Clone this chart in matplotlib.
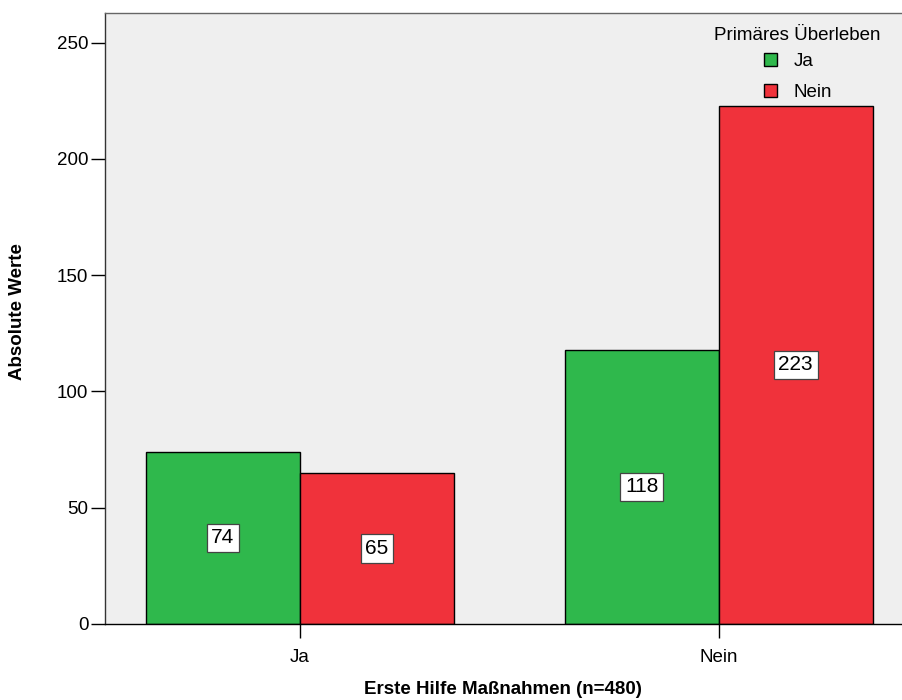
import numpy as np
import matplotlib
matplotlib.use("Agg")
import matplotlib.pyplot as plt

plt.rcParams['font.family'] = ['Liberation Sans', 'DejaVu Sans']

# data
categories = ["Ja", "Nein"]
series_names = ["Ja", "Nein"]
ja_values = [74, 118]
nein_values = [65, 223]
colors = ["#2fb84c", "#f0323b"]

W, H = 903, 700
fig = plt.figure(figsize=(9.03, 7.0), dpi=100)
ax = fig.add_axes([0.1163, 0.1086, 0.8837, 0.8735])
ax.set_facecolor("#efefef")

x = np.arange(len(categories))
w = 0.3675
b1 = ax.bar(x - w / 2, ja_values, w, color=colors[0], edgecolor="black", linewidth=1.0, label=series_names[0], zorder=2)
b2 = ax.bar(x + w / 2, nein_values, w, color=colors[1], edgecolor="black", linewidth=1.0, label=series_names[1], zorder=2)

# value labels in white boxes at mid-height
for bars in (b1, b2):
    for r in bars:
        h = r.get_height()
        ax.text(r.get_x() + r.get_width() / 2, h / 2, f"{int(h)}",
                ha="center", va="center", fontsize=15, zorder=3,
                bbox=dict(boxstyle="square,pad=0.22", facecolor="white", edgecolor="#444444", linewidth=0.9))

ax.set_xlim(-0.465, 1.44)
ax.set_ylim(0, 263)
ax.set_yticks([0, 50, 100, 150, 200, 250])
ax.set_xticks(x)
ax.set_xticklabels(categories)
ax.tick_params(axis="both", direction="out", length=10, width=1, labelsize=13.5, pad=2)
ax.tick_params(axis="x", pad=8)

ax.spines["right"].set_visible(False)
ax.spines["top"].set_color("#666666")
ax.spines["left"].set_color("#333333")
for side in ["left", "bottom", "top"]:
    ax.spines[side].set_linewidth(1)

# axis titles placed in figure pixels
fig.text(18 / W, 1 - 312 / H, "Absolute Werte", rotation=90, ha="center", va="center",
         fontsize=13.5, fontweight="bold")
fig.text(503 / W, 1 - 690 / H, "Erste Hilfe Maßnahmen (n=480)", ha="center", va="center",
         fontsize=13.5, fontweight="bold")

# legend: title as separate text, entries below
fig.text(797 / W, 1 - 36 / H, "Primäres Überleben", ha="center", va="center", fontsize=13.5)
leg = ax.legend(loc="upper left", bbox_to_anchor=(764 / W, 1 - 53 / H), bbox_transform=fig.transFigure,
                frameon=False, fontsize=13.5,
                handlelength=0.7, handleheight=0.7, labelspacing=0.75, handletextpad=0.9,
                borderpad=0, borderaxespad=0)

fig.savefig("out.png", dpi=100)
